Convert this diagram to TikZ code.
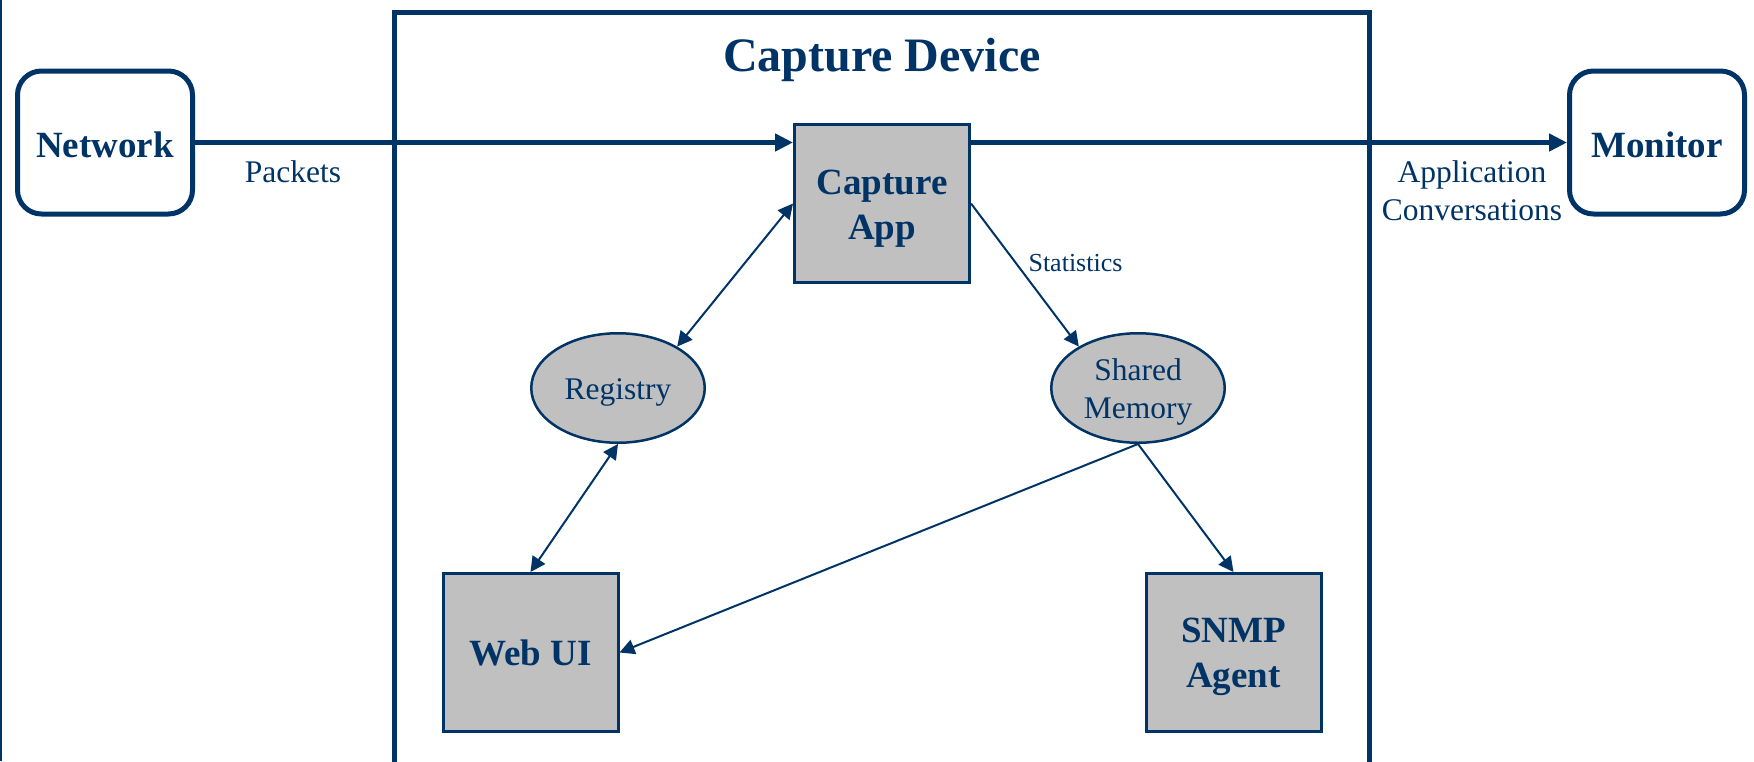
\documentclass[tikz,border=0pt]{standalone}
\usepackage{fontspec}
\setmainfont{Liberation Serif}
\usetikzlibrary{shapes.geometric,arrows.meta}
\definecolor{navy}{RGB}{0,51,102}
\definecolor{silver}{RGB}{192,192,192}
\newcommand\tstrut[1]{\rule{0pt}{#1}}
\tikzset{
  endbox/.style={draw=navy,line width=5pt,rounded corners=24pt,fill=white,
    minimum width=175pt,minimum height=143pt,inner sep=0pt,
    text=navy,font=\fontsize{37}{45}\selectfont\bfseries},
  procbox/.style={draw=navy,line width=3pt,fill=silver,inner sep=0pt,
    minimum width=175pt,minimum height=158pt,align=center,
    text=navy,font=\fontsize{37}{45}\selectfont\bfseries},
  store/.style={ellipse,draw=navy,line width=2.5pt,fill=silver,inner sep=0pt,
    minimum width=173.5pt,minimum height=109.5pt,align=center,
    text=navy,font=\fontsize{31.5}{38}\selectfont},
  biglink/.style={draw=navy,line width=5pt,-{Triangle[length=18pt,width=17pt]}},
  thinlink/.style={draw=navy,line width=2pt,-{Triangle[length=15pt,width=15pt]}},
  thinboth/.style={draw=navy,line width=2pt,{Triangle[length=15pt,width=15pt]}-{Triangle[length=15pt,width=15pt]}},
  lbl/.style={text=navy,inner sep=0pt,font=\fontsize{31.5}{38}\selectfont,align=center},
  smalllbl/.style={text=navy,inner sep=0pt,font=\fontsize{26}{31}\selectfont},
  ttl/.style={text=navy,inner sep=0pt,font=\fontsize{48}{58}\selectfont\bfseries}
}
\begin{document}
\begin{tikzpicture}[x=1pt,y=-1pt]
\useasboundingbox (0,0) rectangle (1754,761);
\fill[white] (0,0) rectangle (1754,761);
% left edge line
\draw[navy,line width=1.8pt] (0.9,0) -- (0.9,761);
% capture device frame
\draw[navy,line width=5pt] (394.5,775) -- (394.5,12.5) -- (1369.5,12.5) -- (1369.5,775);
\node[ttl,anchor=base] (title) at (882,71) {Capture Device};

\node[endbox] (net) at (105,142.5) {\tstrut{30pt}Network};
\node[endbox] (mon) at (1657,142.5) {\tstrut{30pt}Monitor};
\node[procbox] (app) at (882,203.5) {\tstrut{34pt}Capture\\App};
\node[store] (reg) at (618,388) {\tstrut{29pt}Registry};
\node[store] (shm) at (1138,388) {\tstrut{30.5pt}Shared\\Memory};
\node[procbox] (web) at (530.5,652.5) {\tstrut{27pt}Web UI};
\node[procbox] (snmp) at (1233.5,652.5) {\tstrut{33pt}SNMP\\Agent};

\draw[biglink] (net.east) -- (net.east -| app.west);
\draw[biglink] (app.east |- mon.west) -- (mon.west);
\draw[thinboth] (app.west) -- (reg.35);
\draw[thinboth] (reg.south) -- (web.north);
\draw[thinlink] (app.east) -- (shm.145);
\draw[thinlink] (shm.south) -- (web.east);
\draw[thinlink] (shm.south) -- (snmp.north);

\node[lbl,anchor=base] (pk) at (293,182) {Packets};
\node[lbl,anchor=base] (ac1) at (1472,182) {Application};
\node[lbl,anchor=base] (ac2) at (1472,220) {Conversations};
\node[smalllbl,anchor=base] (st) at (1075.5,271) {Statistics};
\end{tikzpicture}
\end{document}
